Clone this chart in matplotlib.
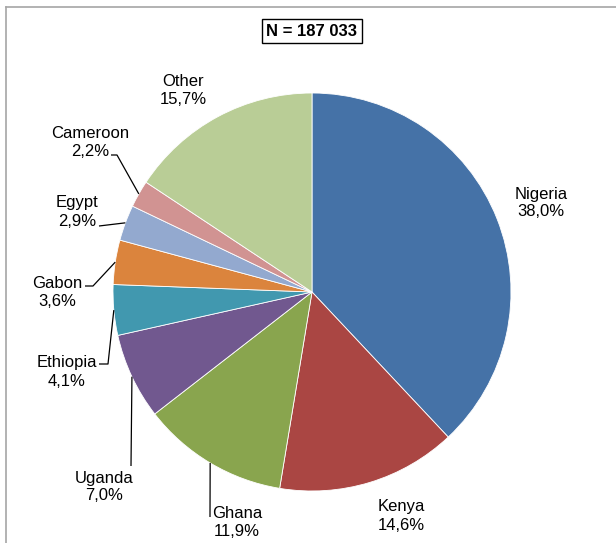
import numpy as np
import matplotlib
matplotlib.use("Agg")
import matplotlib.pyplot as plt
from matplotlib.lines import Line2D

# ---- data ----
countries = ["Nigeria", "Kenya", "Ghana", "Uganda", "Ethiopia", "Gabon", "Egypt", "Cameroon", "Other"]
shares = [38.0, 14.6, 11.9, 7.0, 4.1, 3.6, 2.9, 2.2, 15.7]
share_labels = ["38,0%", "14,6%", "11,9%", "7,0%", "4,1%", "3,6%", "2,9%", "2,2%", "15,7%"]
title_text = "N = 187 033"

colors = ["#4572A7", "#AA4643", "#89A54E", "#71588F", "#4198AF",
          "#DB843D", "#93A9CF", "#D19392", "#B9CD96"]

W, H = 616, 543
CX, CY, R = 312, 292, 199  # pie centre / radius in pixels


def px2d(px, py):
    return (px - CX) / R, (CY - py) / R


plt.rcParams['font.family'] = ['Liberation Sans', 'DejaVu Sans']
fig = plt.figure(figsize=(W / 100, H / 100), dpi=100)
ax = fig.add_axes([0, 0, 1, 1])

wedges, _ = ax.pie(shares, colors=colors, startangle=90, counterclock=False,
                   radius=1.0, center=(0, 0),
                   wedgeprops=dict(edgecolor="white", linewidth=0.6))
ax.set_xlim(-CX / R, (W - CX) / R)
ax.set_ylim(-(H - CY) / R, CY / R)
ax.set_aspect('auto')
ax.axis('off')

# label centres (pixels)
label_pos = {
    "Nigeria": (541, 203),
    "Kenya": (401, 516),
    "Ghana": (237, 522),
    "Uganda": (104, 487),
    "Ethiopia": (67, 372),
    "Gabon": (57, 293),
    "Egypt": (77, 212),
    "Cameroon": (90, 142),
    "Other": (183, 90),
}
# leader line routes (pixels), from label side towards wedge
leader_route = {
    "Cameroon": [(111, 155), (117, 155)],
    "Egypt": [(99, 226)],
    "Gabon": [(85, 286), (93, 286)],
    "Ethiopia": [(99, 364), (108, 364)],
    "Uganda": [(131, 466)],
    "Ghana": [(210, 517)],
}

for w, name, lab in zip(wedges, countries, share_labels):
    lx, ly = px2d(*label_pos[name])
    ax.text(lx, ly, f"{name}\n{lab}", ha="center", va="center",
            fontsize=12, color="black", linespacing=1.25)
    if name in leader_route:
        mid = np.deg2rad((w.theta1 + w.theta2) / 2)
        edge = (np.cos(mid), np.sin(mid))
        pts = [px2d(*p) for p in leader_route[name]] + [edge]
        xs, ys = zip(*pts)
        ax.plot(xs, ys, color="black", lw=0.9, solid_capstyle="butt")

# title box
tx, ty = px2d(312, 31)
ax.text(tx, ty, title_text, ha="center", va="center", fontsize=12,
        fontweight="bold",
        bbox=dict(boxstyle="square,pad=0.25", facecolor="white",
                  edgecolor="black", linewidth=1.0))

# outer chart-area frame (top & left visible)
fx = lambda p: p / W
fy = lambda p: 1 - p / H
fig.add_artist(Line2D([fx(6), fx(W)], [fy(7), fy(7)], color="#a6a6a6", lw=1.2,
                      transform=fig.transFigure))
fig.add_artist(Line2D([fx(6), fx(6)], [fy(7), fy(H)], color="#a6a6a6", lw=1.2,
                      transform=fig.transFigure))

fig.savefig("out.png", dpi=100)
